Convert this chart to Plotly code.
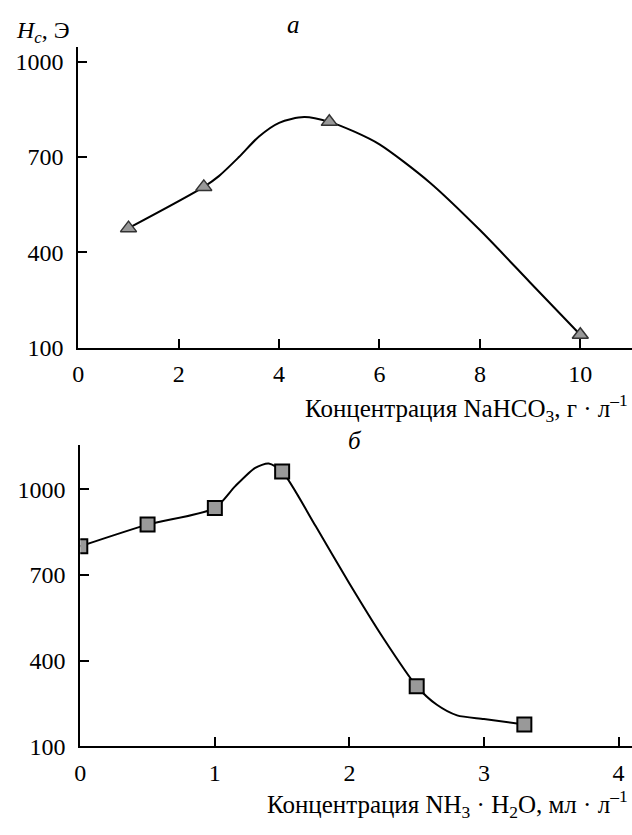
import plotly.graph_objects as go

# Panel а: NaHCO3 concentration vs Hc
a_x = [1, 2.5, 5, 10]
a_y = [476, 606, 811, 140]
# smooth curve as drawn
a_curve_x = [1, 2.5, 2.8, 3.2, 3.6, 4.0, 4.5, 5.0, 5.5, 6.0, 7.0, 8.0, 9.0, 10.0]
a_curve_y = [476, 606, 640, 700, 765, 808, 826, 811, 780, 740, 620, 470, 305, 140]

# Panel б: NH3·H2O concentration vs Hc
b_x = [0, 0.5, 1, 1.5, 2.5, 3.3]
b_y = [800, 876, 934, 1062, 310, 176]
b_curve_x = [0, 0.5, 1.0, 1.15, 1.3, 1.4, 1.5, 1.75, 2.0, 2.25, 2.5, 2.65, 2.8, 3.0, 3.3]
b_curve_y = [800, 876, 934, 1010, 1075, 1090, 1062, 870, 670, 480, 310, 245, 208, 195, 176]

y_ticks = [100, 400, 700, 1000]
a_xticks = [0, 2, 4, 6, 8, 10]
b_xticks = [0, 1, 2, 3, 4]

FONT = "Liberation Serif, Times New Roman, serif"
W, H = 632, 835

fig = go.Figure()
fig.add_trace(go.Scatter(x=a_curve_x, y=a_curve_y, mode="lines", line=dict(color="black", width=2, shape="spline", smoothing=0.8), xaxis="x", yaxis="y", showlegend=False))
fig.add_trace(go.Scatter(x=a_x, y=a_y, mode="markers", marker=dict(symbol="triangle-up", size=14, color="#999999", line=dict(color="#333333", width=1.5)), xaxis="x", yaxis="y", showlegend=False))
fig.add_trace(go.Scatter(x=b_curve_x, y=b_curve_y, mode="lines", line=dict(color="black", width=2, shape="spline", smoothing=0.7), xaxis="x2", yaxis="y2", showlegend=False))
fig.add_trace(go.Scatter(x=b_x, y=b_y, mode="markers", marker=dict(symbol="square", size=14, color="#999999", line=dict(color="black", width=2)), xaxis="x2", yaxis="y2", showlegend=False))

def py(pix):
    return (H - pix) / H

axis_common = dict(showline=True, linecolor="black", linewidth=2, ticks="inside", ticklen=9, tickwidth=2, tickcolor="black",
                   showgrid=False, zeroline=False, tickfont=dict(family=FONT, size=24, color="black"))

fig.update_layout(
    width=W, height=H, margin=dict(l=0, r=0, t=0, b=0),
    paper_bgcolor="white", plot_bgcolor="white",
    xaxis=dict(domain=[73 / W, 1], range=[0, 11.03], tickvals=a_xticks, anchor="y", ticklabelstandoff=4, **axis_common),
    yaxis=dict(domain=[py(353), py(48)], range=[100, 1046], tickvals=y_ticks, anchor="x", ticklabelstandoff=8, **axis_common),
    xaxis2=dict(domain=[75 / W, 1], range=[0, 4.1], tickvals=b_xticks, anchor="y2", ticklabelstandoff=4, **axis_common),
    yaxis2=dict(domain=[py(758), py(452)], range=[100, 1155], tickvals=y_ticks, anchor="x2", ticklabelstandoff=8, **axis_common),
)

fig.add_annotation(x=8 / W, y=py(33), xref="paper", yref="paper", xanchor="left", yanchor="middle", showarrow=False,
                   text="<i>H<sub>c</sub></i>, Э", font=dict(family=FONT, size=24, color="black"))
fig.add_annotation(x=290 / W, y=py(25), xref="paper", yref="paper", xanchor="center", yanchor="middle", showarrow=False,
                   text="<i>а</i>", font=dict(family=FONT, size=25, color="black"))
fig.add_annotation(x=352 / W, y=py(447), xref="paper", yref="paper", xanchor="center", yanchor="middle", showarrow=False,
                   text="<i>б</i>", font=dict(family=FONT, size=25, color="black"))
fig.add_annotation(x=630 / W, y=py(414), xref="paper", yref="paper", xanchor="right", yanchor="middle", showarrow=False,
                   text="Концентрация NaHCO<sub>3</sub>, г · л<sup>–1</sup>", font=dict(family=FONT, size=25, color="black"))
fig.add_annotation(x=630 / W, y=py(817), xref="paper", yref="paper", xanchor="right", yanchor="middle", showarrow=False,
                   text="Концентрация NH<sub>3</sub> · H<sub>2</sub>O, мл · л<sup>–1</sup>", font=dict(family=FONT, size=25, color="black"))

fig.write_html("out.html", config={"displayModeBar": False}, post_script="document.body.style.margin='0px';")
